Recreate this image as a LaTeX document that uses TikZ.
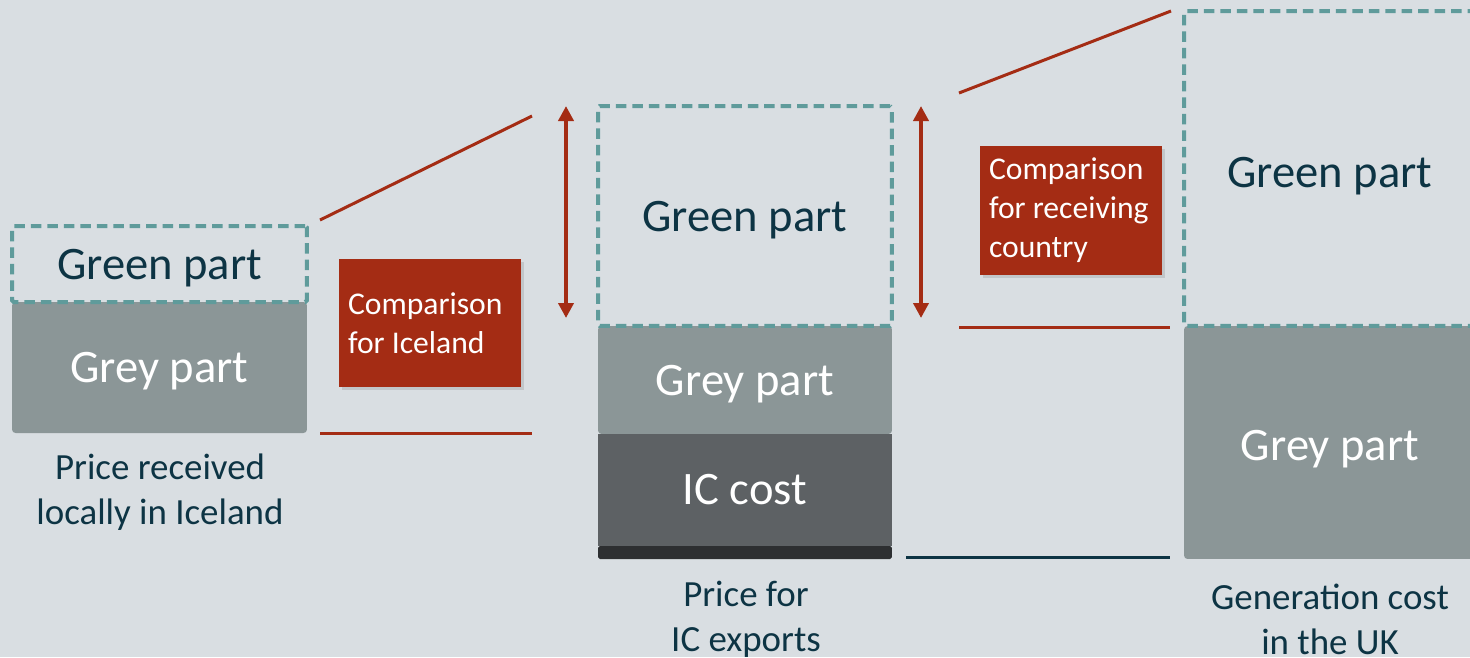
\documentclass[tikz,border=0pt]{standalone}
\usepackage{fontspec}
\setmainfont{Carlito}
\definecolor{pgbg}{RGB}{217,222,226}
\definecolor{pgteal}{RGB}{95,155,155}
\definecolor{pgnavy}{RGB}{13,52,68}
\definecolor{pggrey}{RGB}{139,150,151}
\definecolor{pgdark}{RGB}{93,97,100}
\definecolor{pgblack}{RGB}{45,47,49}
\definecolor{pgred}{RGB}{164,44,20}
\usetikzlibrary{arrows.meta,shadows}

\tikzset{
  barpart/.style={inner sep=0pt, outer sep=0pt, minimum width=5.9cm,
    font=\fontsize{26.5}{32}\selectfont},
  greenpart/.style={barpart, draw=pgteal, line width=0.08cm, text depth=0pt,
    dash pattern=on 0.21cm off 0.12cm, rounded corners=1pt, text=pgnavy},
  greypart/.style={barpart, fill=pggrey, rounded corners=2pt, text=white, text depth=0pt},
  icpart/.style={barpart, fill=pgdark, text=white},
  basepart/.style={barpart, fill=pgblack, rounded corners=1pt},
  partlabel/.style={font=\fontsize{26.5}{32}\selectfont, text depth=0pt},
  caption/.style={align=center, text=pgnavy, font=\fontsize{21}{25.6}\selectfont},
  compbox/.style={fill=pgred, text=white, align=flush left, text width=3.28cm,
    inner sep=0.18cm, font=\fontsize{18}{22.2}\selectfont,
    drop shadow={opacity=0.25, shadow xshift=1.5pt, shadow yshift=-1.5pt}},
  levelline/.style={pgred, line width=0.06cm},
  gaparrow/.style={{Triangle[length=0.3cm,width=0.3cm]}-{Triangle[length=0.3cm,width=0.3cm]},
    pgred, line width=0.08cm}
}

\begin{document}
\begin{tikzpicture}[x=0.02cm, y=-0.02cm]

% background and frame
\fill[pgbg] (0,0) rectangle (1470,657);
\useasboundingbox (0,0) rectangle (1470,657);
\clip (0,0) rectangle (1470,657);

% --- Bar 1: price in Iceland ---
\node[greypart, minimum height=2.62cm] (iceGrey) at (159.5,367.5) {Grey part};
\node[greenpart, minimum height=1.52cm] (iceGreen) at (159.5,264) {Green part};
\node[caption] (iceCap) at (160,492.5) {Price received\\locally in Iceland};

% --- Bar 2: price for exports ---
\node[greypart, minimum height=2.16cm, minimum width=5.88cm] (exGrey) at (745,380) {Grey part};
\node[icpart, minimum height=2.24cm, minimum width=5.88cm] (exIC) at (745,490) {IC cost};
\node[basepart, minimum height=0.26cm, minimum width=5.88cm] (exBase) at (745,552.5) {};
\node[greenpart, minimum height=4.4cm, minimum width=5.88cm] (exGreen) at (745,216) {Green part};
\node[caption] (exCap) at (746,619) {Price for\\IC exports};

% --- Bar 3: generation cost in the UK ---
\node[greypart, minimum height=4.66cm, minimum width=5.92cm] (ukGrey) at (1332,442.5) {};
\node[partlabel, text=white] (ukGreyText) at (1330,445) {Grey part};
\node[greenpart, minimum height=6.3cm, minimum width=5.92cm] (ukGreen) at (1332,168.5) {};
\node[partlabel, text=pgnavy] (ukGreenText) at (1330,172) {Green part};
\node[caption] (ukCap) at (1330,619) {Generation cost\\in the UK};

% --- Comparison for Iceland ---
\coordinate (iceSlopeA) at (320,220);
\coordinate (iceSlopeB) at (532,116);
\coordinate (iceBaseA) at (320,433);
\coordinate (iceBaseB) at (532,433);
\coordinate (iceArrTop) at (566,106);
\coordinate (iceArrBot) at (566,318);
\draw[levelline] (iceSlopeA) -- (iceSlopeB);
\draw[levelline] (iceBaseA) -- (iceBaseB);
\draw[gaparrow] (iceArrTop) -- (iceArrBot);
\node[compbox, minimum height=2.56cm] (iceComp) at (430,323) {Comparison\\for Iceland};

% --- Comparison for receiving country ---
\coordinate (ukSlopeA) at (959,93);
\coordinate (ukSlopeB) at (1171,11);
\coordinate (ukBaseA) at (959,327);
\coordinate (ukBaseB) at (1170,327);
\coordinate (ukArrTop) at (921,106);
\coordinate (ukArrBot) at (921,318);
\coordinate (icLevelA) at (906,557);
\coordinate (icLevelB) at (1170,557);
\draw[levelline] (ukSlopeA) -- (ukSlopeB);
\draw[levelline] (ukBaseA) -- (ukBaseB);
\draw[gaparrow] (ukArrTop) -- (ukArrBot);
\draw[pgnavy, line width=0.06cm] (icLevelA) -- (icLevelB);
\node[compbox, minimum height=2.58cm] (ukComp) at (1071,210.5) {Comparison\\for receiving\\country};

\end{tikzpicture}
\end{document}
